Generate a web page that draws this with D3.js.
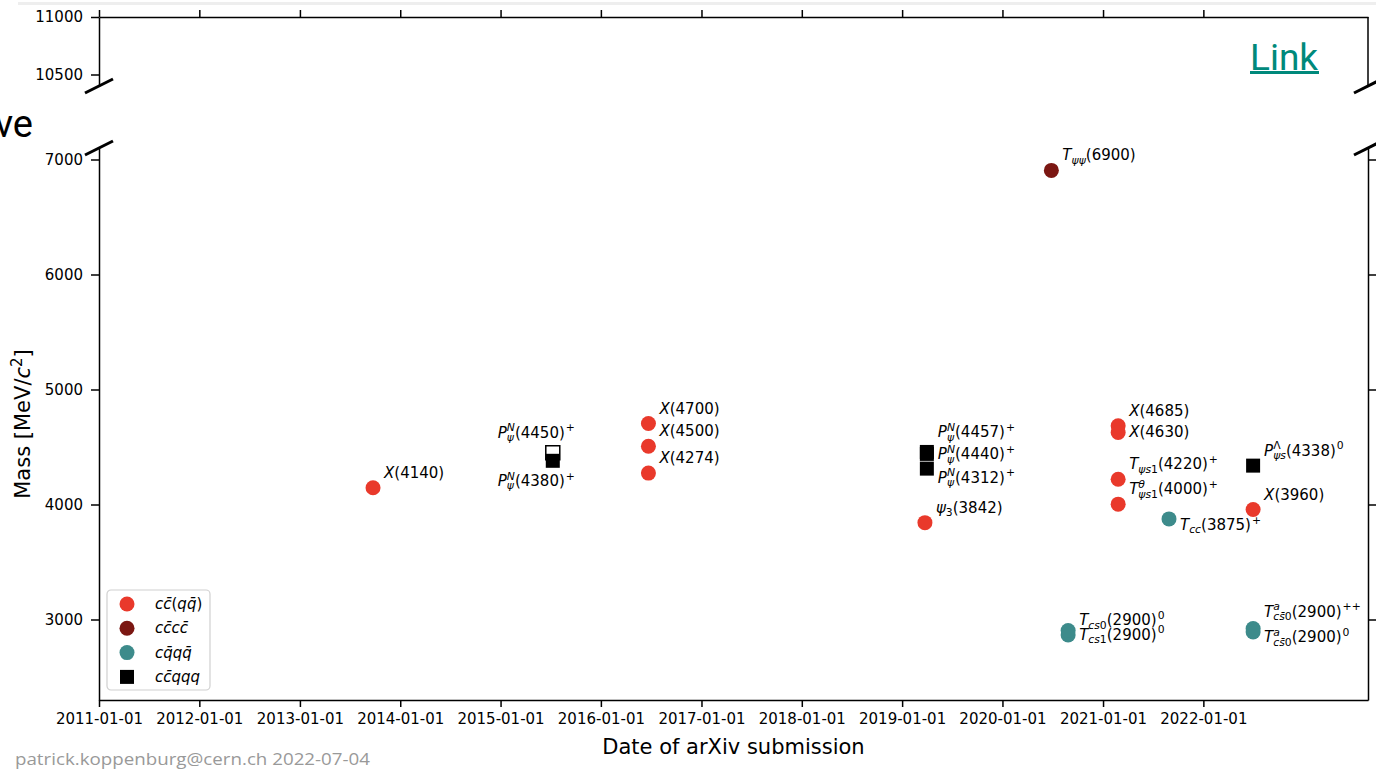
<!DOCTYPE html>
<html>
<head>
<meta charset="utf-8">
<script src="https://cdn.jsdelivr.net/npm/d3@7"></script>
<style>
  html, body { margin: 0; padding: 0; background: #fff; }
  svg { display: block; font-family: "DejaVu Sans", sans-serif; }
</style>
</head>
<body>
<svg id="chart" width="1376" height="770"></svg>
<script>
// ---- data ----
const families = ["cc̄(qq̄)", "cc̄cc̄", "cq̄qq̄", "cc̄qqq"];
const familyColors = ["#e9392b", "#7b1712", "#3d8b8b", "#000000"];

const ccqqNames  = ["X(4140)", "X(4700)", "X(4500)", "X(4274)", "ψ_{3}(3842)",
                    "X(4685)", "X(4630)", "T_{ψs1}(4220)^{+}", "T_{ψs1}^{θ}(4000)^{+}", "X(3960)"];
const ccqqDates  = ["2013-09-24", "2016-06-22", "2016-06-22", "2016-06-22", "2019-03-25",
                    "2021-02-25", "2021-02-25", "2021-02-25", "2021-02-25", "2022-07-01"];
const ccqqMasses = [4146, 4704, 4506, 4273, 3842, 4684, 4626, 4220, 4003, 3956];

const ccccNames  = ["T_{ψψ}(6900)"];
const ccccDates  = ["2020-06-27"];
const ccccMasses = [6905];

const cqqqNames  = ["T_{cs0}(2900)^{0}", "T_{cs1}(2900)^{0}", "T_{cc}(3875)^{+}",
                    "T_{cs̄0}^{a}(2900)^{++}", "T_{cs̄0}^{a}(2900)^{0}"];
const cqqqDates  = ["2020-08-27", "2020-08-27", "2021-08-29", "2022-07-01", "2022-07-01"];
const cqqqMasses = [2866, 2904, 3875, 2921, 2892];

const ccqqqNames  = ["P_{ψ}^{N}(4450)^{+}", "P_{ψ}^{N}(4380)^{+}", "P_{ψ}^{N}(4457)^{+}",
                     "P_{ψ}^{N}(4440)^{+}", "P_{ψ}^{N}(4312)^{+}", "P_{ψs}^{Λ}(4338)^{0}"];
const ccqqqDates  = ["2015-07-10", "2015-07-10", "2019-04-01", "2019-04-01", "2019-04-01", "2022-07-01"];
const ccqqqMasses = [4450, 4380, 4457, 4440, 4312, 4338];
const openMarkers = ["P_{ψ}^{N}(4450)^{+}"];   // superseded state, drawn hollow

const xTickLabels = ["2011-01-01", "2012-01-01", "2013-01-01", "2014-01-01", "2015-01-01", "2016-01-01",
                     "2017-01-01", "2018-01-01", "2019-01-01", "2020-01-01", "2021-01-01", "2022-01-01"];
const yTicksTop = [10500, 11000];
const yTicksBottom = [3000, 4000, 5000, 6000, 7000];

// label placement (offset of text baseline from the marker), default up-right
const labelOffsets = {
  "P_{ψ}^{N}(4450)^{+}": [-55, -15],
  "P_{ψ}^{N}(4380)^{+}": [-55, 25],
  "P_{ψ}^{N}(4457)^{+}": [11, -15],
  "P_{ψ}^{N}(4440)^{+}": [11, 5],
  "P_{ψ}^{N}(4312)^{+}": [11, 14],
  "X(4630)": [11, 4],
  "T_{cc}(3875)^{+}": [11, 11],
  "T_{cs0}(2900)^{0}": [11, -10],
  "T_{cs1}(2900)^{0}": [11, 9],
  "T_{cs̄0}^{a}(2900)^{++}": [11, -12],
  "T_{cs̄0}^{a}(2900)^{0}": [11, 10]
};

const parseDate = d3.timeParse("%Y-%m-%d");

const seriesList = [
  { names: ccqqNames, dates: ccqqDates, masses: ccqqMasses, shape: "circle" },
  { names: ccccNames, dates: ccccDates, masses: ccccMasses, shape: "circle" },
  { names: cqqqNames, dates: cqqqDates, masses: cqqqMasses, shape: "circle" },
  { names: ccqqqNames, dates: ccqqqDates, masses: ccqqqMasses, shape: "square" }
].map((s, i) => ({ ...s, family: families[i], color: familyColors[i] }));

// ---- layout ----
const svg = d3.select("#chart");
const left = 99, right = 1368;
const topPanel = { top: 17, bottom: 86 };
const botPanel = { top: 148, bottom: 700 };

const x = d3.scaleTime()
  .domain([parseDate("2011-01-01"), parseDate("2023-08-23")])
  .range([left, right]);
const yTop = d3.scaleLinear().domain([10400, 11000]).range([topPanel.bottom, topPanel.top]);
const yBot = d3.scaleLinear().domain([2300, 7100]).range([botPanel.bottom, botPanel.top]);

// slide leftovers around the figure
svg.append("rect").attr("x", 18).attr("y", 2).attr("width", 1358).attr("height", 3).attr("fill", "#eeeeee");
svg.append("text").attr("x", 33).attr("y", 137).attr("text-anchor", "end")
  .style("font-family", "Roboto, sans-serif").style("font-size", "38px").text("ve");
svg.append("text").attr("x", 1250).attr("y", 70)
  .style("font-family", "Roboto, sans-serif").style("font-size", "37px").attr("fill", "#00897b").text("Link");
svg.append("rect").attr("x", 1250).attr("y", 71).attr("width", 69).attr("height", 3).attr("fill", "#00897b");
svg.append("text").attr("x", 15).attr("y", 765)
  .attr("textLength", 355).attr("lengthAdjust", "spacingAndGlyphs")
  .style("font-family", "'Open Sans', sans-serif").style("font-size", "17px").attr("fill", "#999")
  .text("patrick.koppenburg@cern.ch 2022-07-04");

// ---- axes ----
const tickFont = "15px";
function styleAxis(g) {
  g.selectAll("path, line").attr("stroke", "#000").attr("stroke-width", 1.5);
  g.selectAll("text").style("font-size", tickFont).style("font-family", "DejaVu Sans").attr("fill", "#000");
}
const xTicks = xTickLabels.map(parseDate);
const massFormat = d3.format("d");

// top panel
svg.append("g").attr("transform", `translate(0,${topPanel.top})`)
  .call(d3.axisTop(x).tickValues(xTicks).tickFormat("").tickSize(7).tickSizeOuter(0))
  .call(styleAxis);
svg.append("g").attr("transform", `translate(${left},0)`)
  .call(d3.axisLeft(yTop).tickValues(yTicksTop).tickFormat(massFormat).tickSize(8).tickSizeOuter(0).tickPadding(8))
  .call(styleAxis);
svg.append("line").attr("x1", right).attr("x2", right).attr("y1", topPanel.top).attr("y2", topPanel.bottom)
  .attr("stroke", "#000").attr("stroke-width", 1.5);

// bottom panel
svg.append("g").attr("transform", `translate(0,${botPanel.bottom})`)
  .call(d3.axisBottom(x).tickValues(xTicks).tickFormat(d3.timeFormat("%Y-%m-%d")).tickSize(7).tickSizeOuter(0).tickPadding(6))
  .call(styleAxis);
svg.append("g").attr("transform", `translate(${left},0)`)
  .call(d3.axisLeft(yBot).tickValues(yTicksBottom).tickFormat(massFormat).tickSize(8).tickSizeOuter(0).tickPadding(8))
  .call(styleAxis);
svg.append("g").attr("transform", `translate(${right},0)`)
  .call(d3.axisRight(yBot).tickValues(yTicksBottom).tickFormat("").tickSize(8).tickSizeOuter(0))
  .call(styleAxis);

// break marks
[[left, topPanel.bottom], [right, topPanel.bottom], [left, botPanel.top], [right, botPanel.top]].forEach(([bx, by]) => {
  svg.append("line").attr("x1", bx - 14).attr("y1", by + 7).attr("x2", bx + 14).attr("y2", by - 7)
    .attr("stroke", "#000").attr("stroke-width", 3);
});

// axis titles
svg.append("text").attr("x", (left + right) / 2).attr("y", 754).attr("text-anchor", "middle")
  .style("font-size", "21px").text("Date of arXiv submission");
const yTitle = svg.append("text").attr("transform", `translate(30,${(botPanel.top + botPanel.bottom) / 2}) rotate(-90)`)
  .attr("text-anchor", "middle").style("font-size", "21px");
yTitle.append("tspan").text("Mass [MeV/");
yTitle.append("tspan").style("font-style", "italic").text("c");
yTitle.append("tspan").attr("dy", -8).style("font-size", "15px").text("2");
yTitle.append("tspan").attr("dy", 8).text("]");

// ---- tiny mathtext renderer: one <text> per label, tspans placed by measuring ----
function parseMath(s) {
  const segs = [];
  let i = 0, base = "";
  const readGroup = () => {
    if (s[i] === "{") {
      const j = s.indexOf("}", i);
      const g = s.slice(i + 1, j); i = j + 1; return g;
    }
    const c = s[i]; i += 1; return c;
  };
  while (i < s.length) {
    const c = s[i];
    if (c === "_" || c === "^") {
      if (base) { segs.push({ text: base, level: "base" }); base = ""; }
      i += 1;
      const g = readGroup();
      const prev = segs[segs.length - 1];
      const level = c === "_" ? "sub" : "sup";
      const stack = prev && prev.level !== "base" && prev.level !== level && !prev.stack;
      segs.push({ text: g, level, stack });
    } else { base += c; i += 1; }
  }
  if (base) segs.push({ text: base, level: "base" });
  return segs;
}
function runs(text) {
  const out = [];
  const chars = text.match(/.\p{M}*/gu) || [];
  chars.forEach(ch => {
    const it = /[a-zA-Z\u03B1-\u03C9]/.test(ch[0]);
    const last = out[out.length - 1];
    if (last && last.it === it) last.s += ch; else out.push({ s: ch, it });
  });
  return out;
}
function drawMath(g, x0, y0, str, size) {
  const segs = parseMath(str);
  const text = g.append("text");
  let cx = x0, prevStart = x0, prevW = 0;
  segs.forEach(seg => {
    const fs = seg.level === "base" ? size : size * 0.72;
    const dy = seg.level === "sub" ? size * 0.24 : seg.level === "sup" ? -size * 0.42 : 0;
    const start = seg.stack ? prevStart : cx + (seg.level === "sup" ? 1 : 0);
    let w = 0;
    runs(seg.text).forEach(r => {
      const t = text.append("tspan").attr("x", start + w).attr("y", y0 + dy)
        .style("font-size", fs + "px").style("font-style", r.it ? "italic" : "normal").text(r.s);
      w += t.node().getComputedTextLength();
    });
    cx = seg.stack ? prevStart + Math.max(prevW, w) : start + w;
    prevStart = start; prevW = w;
  });
}

// ---- marks ----
const r = 7.5, side = 14;
const marks = svg.append("g");
const labels = svg.append("g");
seriesList.forEach(s => {
  s.names.forEach((name, i) => {
    const px = x(parseDate(s.dates[i]));
    const py = yBot(s.masses[i]);
    const open = openMarkers.includes(name);
    if (s.shape === "circle") {
      marks.append("circle").attr("cx", px).attr("cy", py).attr("r", r).attr("fill", s.color);
    } else {
      marks.append("rect").attr("x", px - side / 2).attr("y", py - side / 2).attr("width", side).attr("height", side)
        .attr("fill", open ? "#fff" : s.color).attr("stroke", s.color).attr("stroke-width", open ? 1.5 : 0);
    }
    const [dx, dy] = labelOffsets[name] || [11, -10];
    drawMath(labels, px + dx, py + dy, name, 15);
  });
});

// ---- legend ----
const legend = svg.append("g").attr("transform", "translate(107,590)");
legend.append("rect").attr("width", 103).attr("height", 100).attr("rx", 4)
  .attr("fill", "#fff").attr("stroke", "#d0d0d0").attr("stroke-width", 1.2);
seriesList.forEach((s, i) => {
  const ly = 14 + i * 24.3;
  if (s.shape === "circle") {
    legend.append("circle").attr("cx", 20).attr("cy", ly).attr("r", r).attr("fill", s.color);
  } else {
    legend.append("rect").attr("x", 20 - side / 2).attr("y", ly - side / 2).attr("width", side).attr("height", side).attr("fill", s.color);
  }
  drawMath(legend, 48, ly + 5, s.family, 15);
});
</script>
</body>
</html>
